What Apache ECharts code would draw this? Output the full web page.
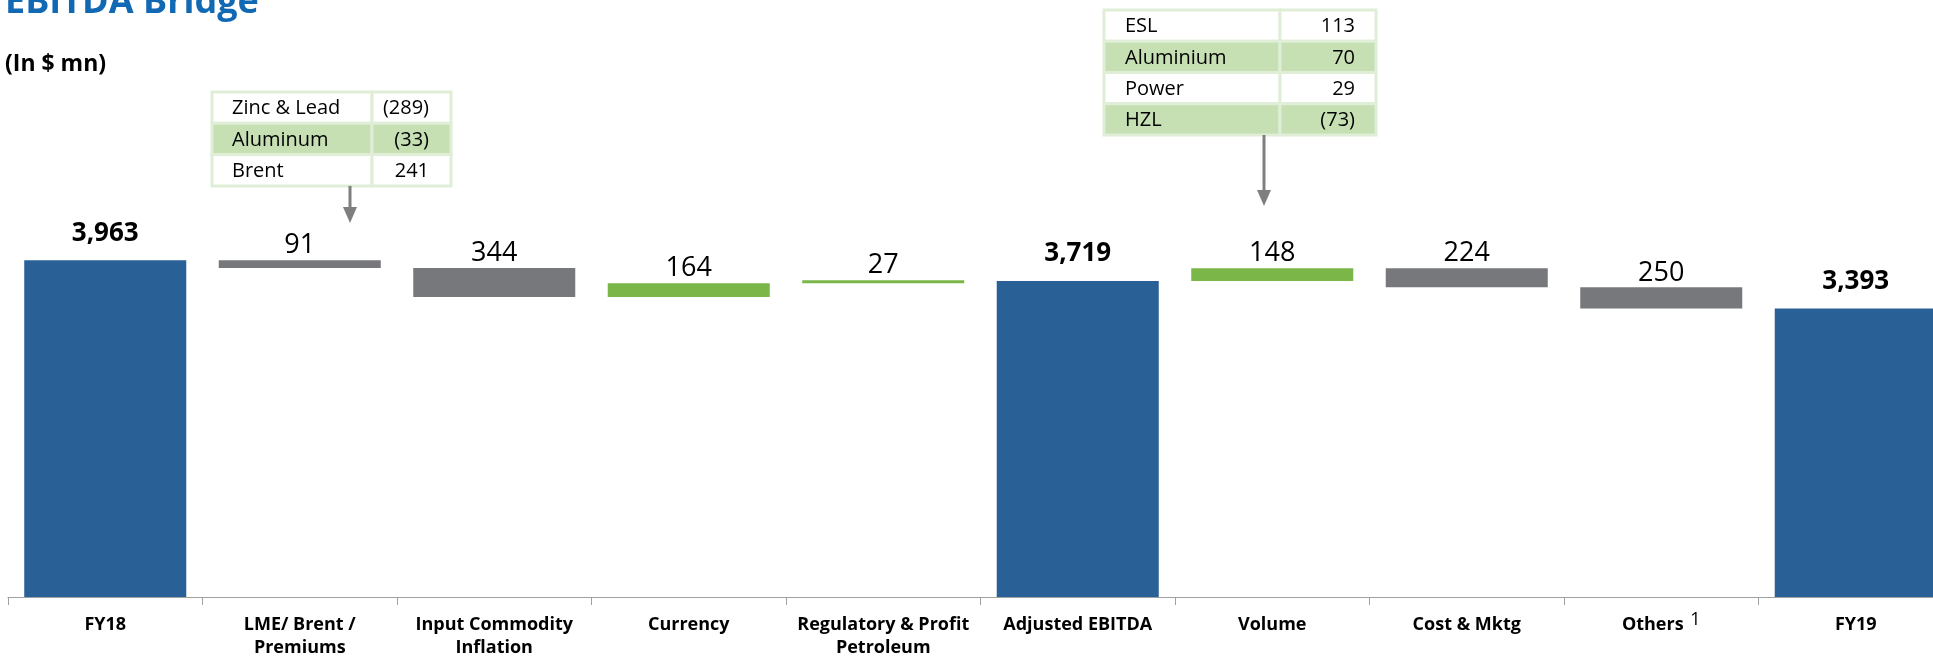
<!DOCTYPE html>
<html>
<head>
<meta charset="utf-8">
<script src="https://cdn.jsdelivr.net/npm/echarts@6/dist/echarts.min.js"></script>
<style>
html,body{margin:0;padding:0;background:#fff;overflow:hidden;width:1933px;height:657px;}
#chart{width:1953px;height:657px;}
</style>
</head>
<body>
<div id="chart"></div>
<script>
// ---- data ----
const categories = ['FY18', 'LME/ Brent /\nPremiums', 'Input Commodity\nInflation', 'Currency',
  'Regulatory & Profit\nPetroleum', 'Adjusted EBITDA', 'Volume', 'Cost & Mktg', 'Others', 'FY19'];
const values = [3963, -91, -344, 164, 27, 3719, 148, -224, -250, 3393];
const isTotal = [true, false, false, false, false, true, false, false, false, true];

const table1Labels = ['Zinc & Lead', 'Aluminum', 'Brent'];
const table1Values = [-289, -33, 241];
const table2Labels = ['ESL', 'Aluminium', 'Power', 'HZL'];
const table2Values = [113, 70, 29, -73];

const titleText = 'EBITDA Bridge';
const subtitleText = '(In $ mn)';

// ---- styling ----
const FONT = "'Open Sans', 'Liberation Sans', Arial, sans-serif";
const BLUE = '#296196', GRAY = '#77787b', GREEN = '#7ab648';

// ---- waterfall build ----
const base = [], height = [];
let running = 0;
values.forEach((v, i) => {
  if (isTotal[i]) { base.push(0); height.push(v); running = v; }
  else if (v >= 0) { base.push(running); height.push(v); running += v; }
  else { running += v; base.push(running); height.push(-v); }
});
const fmt = n => Math.abs(n).toLocaleString('en-US');
const fmtParen = n => n < 0 ? '(' + Math.abs(n).toLocaleString('en-US') + ')' : n.toLocaleString('en-US');

const barData = height.map((h, i) => {
  const color = isTotal[i] ? BLUE : (values[i] >= 0 ? GREEN : GRAY);
  return {
    value: h,
    itemStyle: { color: color },
    label: isTotal[i]
      ? { fontWeight: 'bold', fontSize: 26, distance: 14 }
      : { fontWeight: 'normal', fontSize: 27, distance: 1 }
  };
});

// ---- tables as graphics ----
function makeTable(x, y, w1, w2, rowH, labels, vals, padL, padR, arrowX, arrowY2) {
  const els = [];
  labels.forEach((lab, r) => {
    const fill = r % 2 === 1 ? '#c6e0b4' : '#ffffff';
    const ry = y + r * rowH;
    els.push({ type: 'rect', shape: { x: x, y: ry, width: w1, height: rowH },
      style: { fill: fill, stroke: '#e0eed8', lineWidth: 3 } });
    els.push({ type: 'rect', shape: { x: x + w1, y: ry, width: w2, height: rowH },
      style: { fill: fill, stroke: '#e0eed8', lineWidth: 3 } });
    els.push({ type: 'text', x: x + padL, y: ry + rowH / 2 + 1,
      style: { text: lab, fill: '#000', font: '20px ' + FONT, verticalAlign: 'middle', align: 'left' } });
    els.push({ type: 'text', x: x + w1 + w2 - padR, y: ry + rowH / 2 + 1,
      style: { text: fmtParen(vals[r]), fill: '#000', font: '20px ' + FONT, verticalAlign: 'middle', align: 'right' } });
  });
  const y1 = y + labels.length * rowH;
  els.push({ type: 'line', shape: { x1: arrowX, y1: y1, x2: arrowX, y2: arrowY2 - 14 },
    style: { stroke: '#7f7f7f', lineWidth: 3 } });
  els.push({ type: 'polygon', shape: { points: [[arrowX - 7, arrowY2 - 16], [arrowX + 7, arrowY2 - 16], [arrowX, arrowY2]] },
    style: { fill: '#7f7f7f' } });
  return els;
}

const graphics = [
  { type: 'text', x: 5, y: 3, style: { text: titleText, fill: '#1168b3', font: 'bold 36px ' + FONT, verticalAlign: 'middle' } },
  { type: 'text', x: 5, y: 64, style: { text: subtitleText, fill: '#000', font: 'bold 23px ' + FONT, verticalAlign: 'middle' } }
].concat(
  makeTable(212, 92, 160, 79, 31.3, table1Labels, table1Values, 20, 22, 350, 223),
  makeTable(1104, 10, 176, 96, 31.25, table2Labels, table2Values, 21, 21, 1264, 206)
);

const chart = echarts.init(document.getElementById('chart'), null, { renderer: 'canvas' });
chart.setOption({
  animation: false,
  backgroundColor: '#fff',
  textStyle: { fontFamily: FONT },
  grid: { left: 8, right: 0, top: 257, bottom: 60, containLabel: false, outerBoundsMode: 'none' },
  xAxis: {
    type: 'category',
    data: categories,
    axisLine: { lineStyle: { color: '#a0a0a0', width: 1.2 } },
    axisTick: { show: true, length: 8, alignWithLabel: false, lineStyle: { color: '#a0a0a0' } },
    axisLabel: {
      interval: 0, margin: 16, color: '#000', fontWeight: 'bold', fontSize: 18, lineHeight: 23,
      fontFamily: FONT,
      formatter: v => v === 'Others' ? 'Others {sup|1}' : v,
      rich: { sup: { fontSize: 18, fontWeight: 'normal', color: '#000', fontFamily: FONT, padding: [0, 0, 9, 2] } }
    }
  },
  yAxis: { type: 'value', min: 0, max: 4000, show: false, splitLine: { show: false } },
  series: [
    {
      type: 'bar', stack: 'wf', data: base, barWidth: '83.3%', silent: true,
      itemStyle: { color: 'transparent' }, label: { show: false }
    },
    {
      type: 'bar', stack: 'wf', data: barData, barWidth: '83.3%', barMinHeight: 3,
      label: {
        show: true, position: 'top', color: '#000', fontFamily: FONT,
        formatter: p => fmt(values[p.dataIndex])
      }
    }
  ],
  graphic: graphics
});
</script>
</body>
</html>
